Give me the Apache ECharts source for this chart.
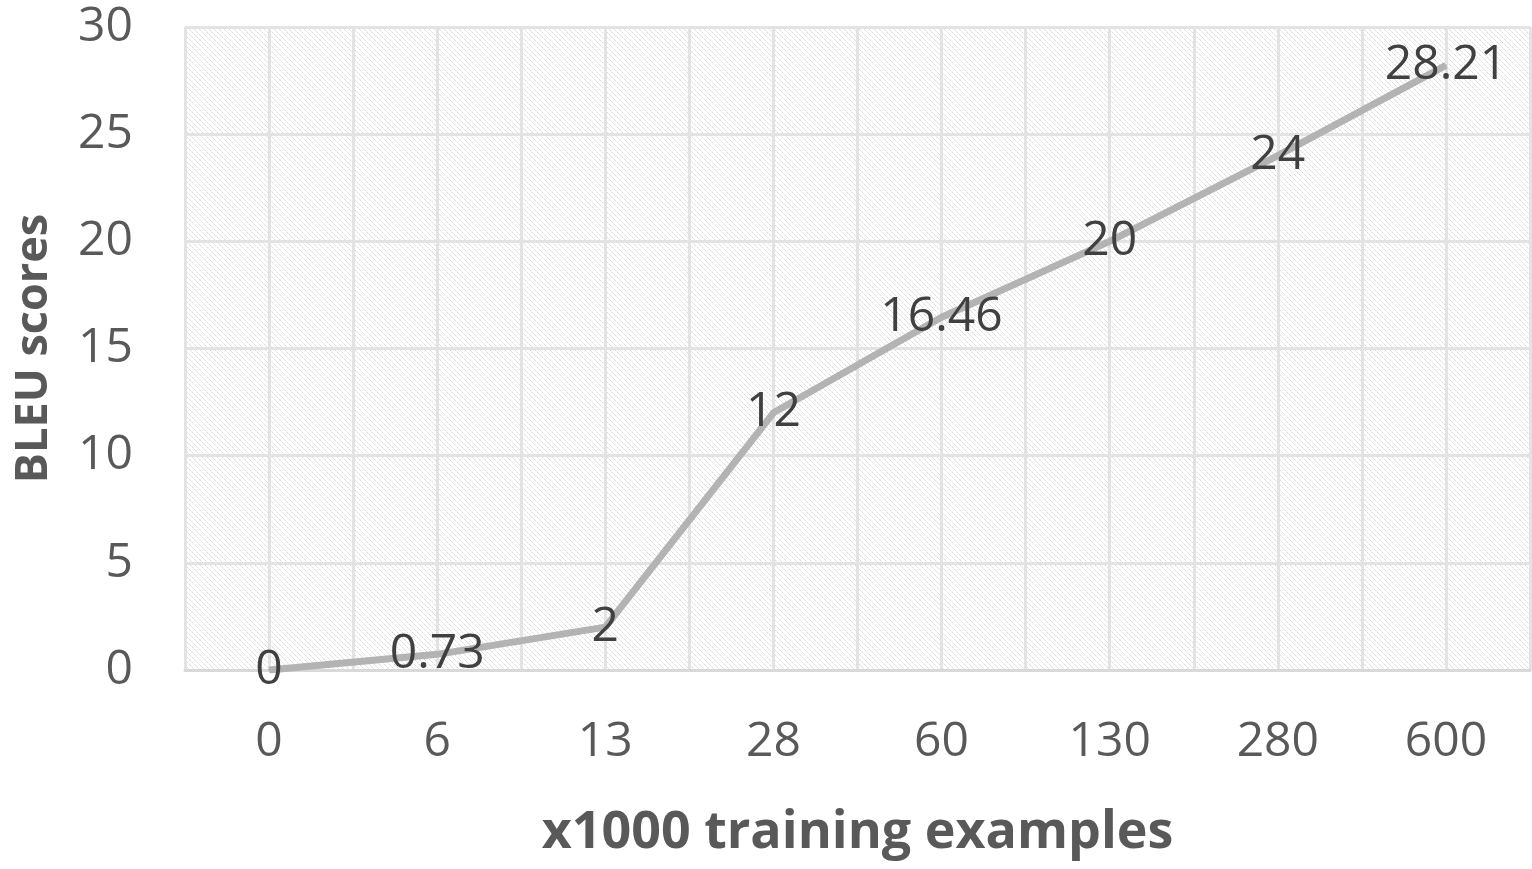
<!DOCTYPE html>
<html>
<head>
<meta charset="utf-8">
<script src="https://cdn.jsdelivr.net/npm/echarts@6/dist/echarts.min.js"></script>
<style>
html,body{margin:0;padding:0;background:#fff;}
#chart{width:1532px;height:869px;}
</style>
</head>
<body>
<div id="chart"></div>
<script>
const categories = ['0', '6', '13', '28', '60', '130', '280', '600'];
const bleuScores = [0, 0.73, 2, 12, 16.46, 20, 24, 28.21];
const yTicks = { min: 0, max: 30, interval: 5 };

// hatch pattern tile
const tile = document.createElement('canvas');
tile.width = 5; tile.height = 5;
const tc = tile.getContext('2d');
tc.fillStyle = '#ffffff';
tc.fillRect(0, 0, 5, 5);
for (let i = 0; i < 5; i++) {
  tc.fillStyle = (i % 2 === 0) ? '#dcdcdc' : '#ebebeb';
  tc.fillRect(i, i, 1, 1);
}

const font = '"Open Sans", "Noto Sans", sans-serif';
const chart = echarts.init(document.getElementById('chart'));
chart.setOption({
  animation: false,
  grid: {
    left: 185, right: 2, top: 27, bottom: 199,
    outerBoundsMode: 'none',
    containLabel: false,
    show: true,
    backgroundColor: { image: tile, repeat: 'repeat' },
    borderWidth: 0
  },
  xAxis: [{
    type: 'category',
    data: categories,
    boundaryGap: true,
    axisLine: { show: true, lineStyle: { color: '#d9d9d9', width: 3 } },
    axisTick: { show: false },
    splitLine: { show: false },
    axisLabel: { color: '#595959', fontSize: 48, fontFamily: font, margin: 48 },
    name: 'x1000 training examples',
    nameLocation: 'middle',
    nameGap: 137,
    nameTextStyle: { color: '#595959', fontSize: 52, fontWeight: 'bold', fontFamily: font }
  }, {
    type: 'value',
    min: 0, max: 16, interval: 1,
    show: true,
    position: 'bottom',
    axisLine: { show: false },
    axisTick: { show: false },
    axisLabel: { show: false },
    splitLine: { show: true, lineStyle: { color: '#e3e3e3', width: 3 } }
  }],
  yAxis: {
    type: 'value',
    min: yTicks.min, max: yTicks.max, interval: yTicks.interval,
    axisLine: { show: false },
    axisTick: { show: false },
    splitLine: { show: true, lineStyle: { color: '#e3e3e3', width: 3 } },
    axisLabel: { color: '#595959', fontSize: 48, fontFamily: font, margin: 52 },
    name: 'BLEU scores',
    nameLocation: 'middle',
    nameGap: 128,
    nameRotate: 90,
    nameTextStyle: { color: '#595959', fontSize: 45, fontWeight: 'bold', fontFamily: font }
  },
  series: [{
    type: 'line',
    xAxisIndex: 0,
    data: bleuScores,
    showSymbol: true,
    symbol: 'circle',
    symbolSize: 2,
    itemStyle: { color: '#b3b3b3', borderWidth: 0 },
    lineStyle: { color: '#b3b3b3', width: 7 },
    label: {
      show: true,
      position: 'inside',
      offset: [0, 3],
      color: '#404040',
      fontSize: 48,
      fontFamily: font
    },
    labelLayout: { hideOverlap: false },
    z: 5
  }]
});
</script>
</body>
</html>
